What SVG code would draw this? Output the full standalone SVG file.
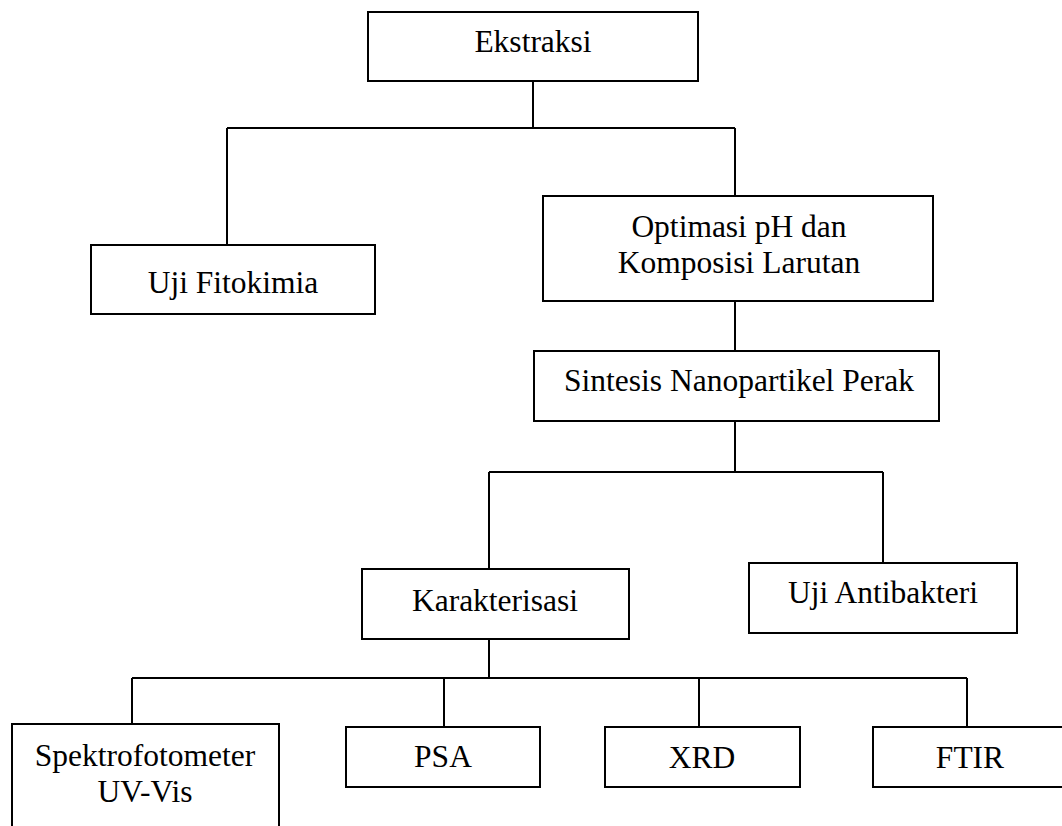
<svg xmlns="http://www.w3.org/2000/svg" width="1062" height="826" viewBox="0 0 1062 826">
  <style>
    .box { fill: #ffffff; stroke: #000000; stroke-width: 2; }
    .lbl { font-family: "Liberation Serif", "Times New Roman", serif; font-size: 31.5px; fill: #000000; text-anchor: middle; }
    .wire { fill: none; stroke: #000000; stroke-width: 2; }
  </style>
  <rect x="0" y="0" width="1062" height="826" fill="#ffffff"/>

  <!-- connectors -->
  <g id="connectors">
    <path class="wire" d="M533 81 V128 M227 128 H735 M227 128 V245 M735 128 V196"/>
    <path class="wire" d="M735 301 V351 M735 421 V472"/>
    <path class="wire" d="M489 472 H883 M489 472 V569 M883 472 V563"/>
    <path class="wire" d="M489 639 V678 M132 678 H967 M132 678 V724 M444 678 V727 M699 678 V727 M967 678 V727"/>
  </g>

  <g id="ekstraksi">
    <rect class="box" x="368" y="12" width="330" height="69"/>
    <text class="lbl" x="533" y="52">Ekstraksi</text>
  </g>

  <g id="uji-fitokimia">
    <rect class="box" x="91" y="245" width="284" height="69"/>
    <text class="lbl" x="233" y="293">Uji Fitokimia</text>
  </g>

  <g id="optimasi">
    <rect class="box" x="543" y="196" width="390" height="105"/>
    <text class="lbl" x="739" y="237">Optimasi pH dan</text>
    <text class="lbl" x="739" y="273">Komposisi Larutan</text>
  </g>

  <g id="sintesis">
    <rect class="box" x="534" y="351" width="405" height="70"/>
    <text class="lbl" x="739" y="391">Sintesis Nanopartikel Perak</text>
  </g>

  <g id="karakterisasi">
    <rect class="box" x="362" y="569" width="267" height="70"/>
    <text class="lbl" x="495" y="611">Karakterisasi</text>
  </g>

  <g id="uji-antibakteri">
    <rect class="box" x="749" y="563" width="268" height="70"/>
    <text class="lbl" x="883" y="603">Uji Antibakteri</text>
  </g>

  <g id="spektrofotometer">
    <rect class="box" x="12" y="724" width="267" height="120"/>
    <text class="lbl" x="145" y="766">Spektrofotometer</text>
    <text class="lbl" x="145" y="802">UV-Vis</text>
  </g>

  <g id="psa">
    <rect class="box" x="346" y="727" width="194" height="60"/>
    <text class="lbl" x="443" y="767">PSA</text>
  </g>

  <g id="xrd">
    <rect class="box" x="605" y="727" width="195" height="60"/>
    <text class="lbl" x="702" y="768">XRD</text>
  </g>

  <g id="ftir">
    <rect class="box" x="873" y="727" width="200" height="60"/>
    <text class="lbl" x="970" y="768">FTIR</text>
  </g>
</svg>
